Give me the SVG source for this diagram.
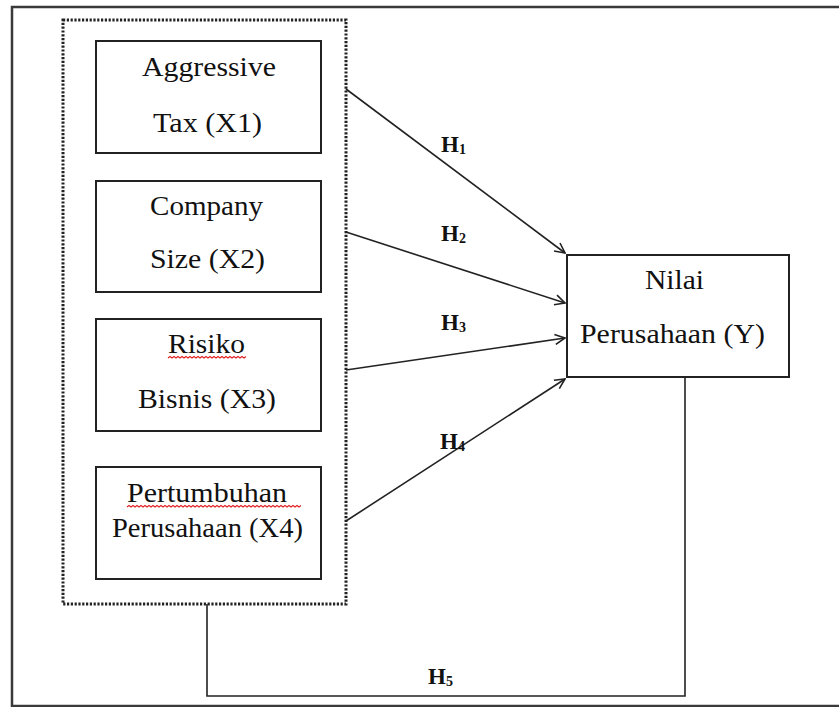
<svg xmlns="http://www.w3.org/2000/svg" width="839" height="707" viewBox="0 0 839 707">
<defs>
<style>
.frame{fill:none;stroke:#3a3a3a;stroke-width:2.5}
.group{fill:none;stroke:#222;stroke-width:3;stroke-dasharray:2.2 1.6}
.box{fill:#fff;stroke:#222;stroke-width:2}
.lbl{font-family:"Liberation Serif","Times New Roman",serif;font-size:27px;fill:#111;text-anchor:middle}
.h{font-family:"Liberation Serif","Times New Roman",serif;font-size:23px;font-weight:bold;fill:#111}
.sub{font-size:14px}
.conn{fill:none;stroke:#222;stroke-width:1.6}
.sq{fill:none;stroke:#e02020;stroke-width:1.1}
</style>
<marker id="arr" viewBox="0 0 12 12" refX="11" refY="6" markerWidth="12" markerHeight="12" markerUnits="userSpaceOnUse" orient="auto">
<path d="M1,1 L11,6 L1,11" fill="none" stroke="#222" stroke-width="1.6"/>
</marker>
</defs>
<rect width="839" height="707" fill="#fff"/>
<rect class="frame" x="12" y="7" width="840" height="699"/>
<rect id="group-x" class="group" x="63" y="20" width="283" height="584"/>

<g id="connectors">
<line class="conn" x1="346" y1="89" x2="565" y2="253" marker-end="url(#arr)"/>
<line class="conn" x1="346" y1="232" x2="565" y2="303" marker-end="url(#arr)"/>
<line class="conn" x1="346" y1="370" x2="565" y2="338" marker-end="url(#arr)"/>
<line class="conn" x1="346" y1="521" x2="565" y2="379" marker-end="url(#arr)"/>
<polyline class="conn" points="207,604 207,696 685,696 685,377"/>
<text class="h" x="441" y="152">H<tspan class="sub" dy="2">1</tspan></text>
<text class="h" x="441" y="241">H<tspan class="sub" dy="2">2</tspan></text>
<text class="h" x="441" y="330">H<tspan class="sub" dy="2">3</tspan></text>
<text class="h" x="440" y="449">H<tspan class="sub" dy="2">4</tspan></text>
<text class="h" x="428" y="684">H<tspan class="sub" dy="2">5</tspan></text>
</g>

<g id="x1">
<rect class="box" x="96" y="41" width="225" height="112"/>
<text class="lbl" x="209" y="76" textLength="134" lengthAdjust="spacingAndGlyphs">Aggressive</text>
<text class="lbl" x="207.5" y="132" textLength="109" lengthAdjust="spacingAndGlyphs">Tax (X1)</text>
</g>
<g id="x2">
<rect class="box" x="96" y="181" width="225" height="111"/>
<text class="lbl" x="206.5" y="215" textLength="113" lengthAdjust="spacingAndGlyphs">Company</text>
<text class="lbl" x="207.5" y="268" textLength="115" lengthAdjust="spacingAndGlyphs">Size (X2)</text>
</g>
<g id="x3">
<rect class="box" x="96" y="319" width="225" height="112"/>
<text class="lbl" x="206.5" y="353" textLength="77" lengthAdjust="spacingAndGlyphs">Risiko</text>
<path class="sq" d="M168,358 l2,-1.5 l2,1.5 l2,-1.5 l2,1.5 l2,-1.5 l2,1.5 l2,-1.5 l2,1.5 l2,-1.5 l2,1.5 l2,-1.5 l2,1.5 l2,-1.5 l2,1.5 l2,-1.5 l2,1.5 l2,-1.5 l2,1.5 l2,-1.5 l2,1.5 l2,-1.5 l2,1.5 l2,-1.5 l2,1.5 l2,-1.5 l2,1.5 l2,-1.5 l2,1.5 l2,-1.5 l2,1.5 l2,-1.5 l2,1.5 l2,-1.5 l2,1.5 l2,-1.5 l2,1.5 l2,-1.5 l2,1.5 l2,-1.5"/>
<text class="lbl" x="207" y="408" textLength="138" lengthAdjust="spacingAndGlyphs">Bisnis (X3)</text>
</g>
<g id="x4">
<rect class="box" x="96" y="467" width="225" height="112"/>
<text class="lbl" x="207" y="502" textLength="160" lengthAdjust="spacingAndGlyphs">Pertumbuhan</text>
<path class="sq" d="M127,507 l2,-1.5 l2,1.5 l2,-1.5 l2,1.5 l2,-1.5 l2,1.5 l2,-1.5 l2,1.5 l2,-1.5 l2,1.5 l2,-1.5 l2,1.5 l2,-1.5 l2,1.5 l2,-1.5 l2,1.5 l2,-1.5 l2,1.5 l2,-1.5 l2,1.5 l2,-1.5 l2,1.5 l2,-1.5 l2,1.5 l2,-1.5 l2,1.5 l2,-1.5 l2,1.5 l2,-1.5 l2,1.5 l2,-1.5 l2,1.5 l2,-1.5 l2,1.5 l2,-1.5 l2,1.5 l2,-1.5 l2,1.5 l2,-1.5 l2,1.5 l2,-1.5 l2,1.5 l2,-1.5 l2,1.5 l2,-1.5 l2,1.5 l2,-1.5 l2,1.5 l2,-1.5 l2,1.5 l2,-1.5 l2,1.5 l2,-1.5 l2,1.5 l2,-1.5 l2,1.5 l2,-1.5 l2,1.5 l2,-1.5 l2,1.5 l2,-1.5 l2,1.5 l2,-1.5 l2,1.5 l2,-1.5 l2,1.5 l2,-1.5 l2,1.5 l2,-1.5 l2,1.5 l2,-1.5 l2,1.5 l2,-1.5 l2,1.5 l2,-1.5 l2,1.5 l2,-1.5 l2,1.5 l2,-1.5 l2,1.5 l2,-1.5 l2,1.5 l2,-1.5 l2,1.5 l2,-1.5 l2,1.5 l2,-1.5"/>
<text class="lbl" x="207.5" y="537" textLength="191" lengthAdjust="spacingAndGlyphs">Perusahaan (X4)</text>
</g>
<g id="y">
<rect class="box" x="567" y="255" width="222" height="122"/>
<text class="lbl" x="674.5" y="289" textLength="59" lengthAdjust="spacingAndGlyphs">Nilai</text>
<text class="lbl" x="672.5" y="343" textLength="185" lengthAdjust="spacingAndGlyphs">Perusahaan (Y)</text>
</g>
</svg>
